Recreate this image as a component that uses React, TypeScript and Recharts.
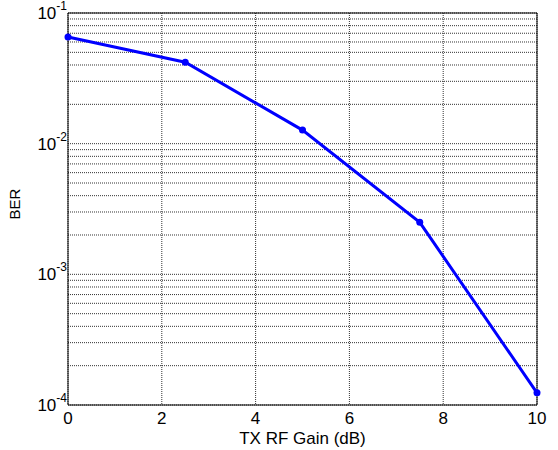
import React from 'react'
import {
  LineChart, Line, XAxis, YAxis, CartesianGrid, ReferenceArea,
} from 'recharts'

const gainDb = [0, 2.5, 5, 7.5, 10]
const ber = [0.0655, 0.042, 0.0127, 0.0025, 0.000124]
const xTicks = [0, 2, 4, 6, 8, 10]
const decades = [-4, -3, -2, -1]

// every 1..9 x 10^k mark between 1e-4 and 1e-1 (for the minor grid)
const yTicks: number[] = []
for (const d of decades) {
  if (d === -1) { yTicks.push(0.1); break }
  for (let m = 1; m <= 9; m++) yTicks.push(Number((m * Math.pow(10, d)).toPrecision(3)))
}

const data = gainDb.map((g, i) => ({ gain: g, ber: ber[i] }))

const FONT = 'Liberation Sans, Arial, sans-serif'

function PowerTick(props: any) {
  const { x, y, payload } = props
  const exp = Math.log10(payload.value)
  if (Math.abs(exp - Math.round(exp)) > 1e-6) return <g />
  return (
    <text x={x} y={y + 6} textAnchor="end" fontFamily={FONT} fill="#000">
      <tspan fontSize={17}>10</tspan>
      <tspan fontSize={12} dy={-9}>{Math.round(exp)}</tspan>
    </text>
  )
}

function BerLabel() {
  return (
    <text x={0} y={0} transform="translate(20, 204) rotate(-90)" textAnchor="middle"
      fontFamily={FONT} fontSize={15} fill="#000">BER</text>
  )
}

export default function App() {
  return (
    <div style={{ position: 'absolute', left: 0, top: 0, background: '#fff' }}>
      <LineChart width={558} height={450} data={data}
        margin={{ top: 13, right: 21, bottom: 0, left: 0 }}>
        <CartesianGrid stroke="#333" strokeDasharray="1 1" strokeWidth={1} />
        <XAxis dataKey="gain" type="number" domain={[0, 10]} ticks={xTicks}
          height={45} tickSize={0} tickMargin={7} axisLine={false} tickLine={false}
          tick={{ fill: '#000', fontSize: 17, fontFamily: FONT }}
          label={{ value: 'TX RF Gain (dB)', position: 'insideBottom', offset: 6, fill: '#000', fontSize: 17, fontFamily: FONT }} />
        <YAxis type="number" scale="log" domain={[1e-4, 1e-1]} ticks={yTicks}
          allowDataOverflow width={68} tickSize={0} tickMargin={1}
          axisLine={false} tickLine={false} tick={<PowerTick />} interval={0}
          label={<BerLabel />} />
        <ReferenceArea x1={0} x2={10} y1={1e-4} y2={1e-1} fill="none" stroke="#000" strokeWidth={1} />
        <Line dataKey="ber" stroke="#0000ff" strokeWidth={3} isAnimationActive={false}
          dot={{ r: 3.5, fill: '#0000ff', stroke: '#0000ff', strokeWidth: 0 }} />
      </LineChart>
    </div>
  )
}
